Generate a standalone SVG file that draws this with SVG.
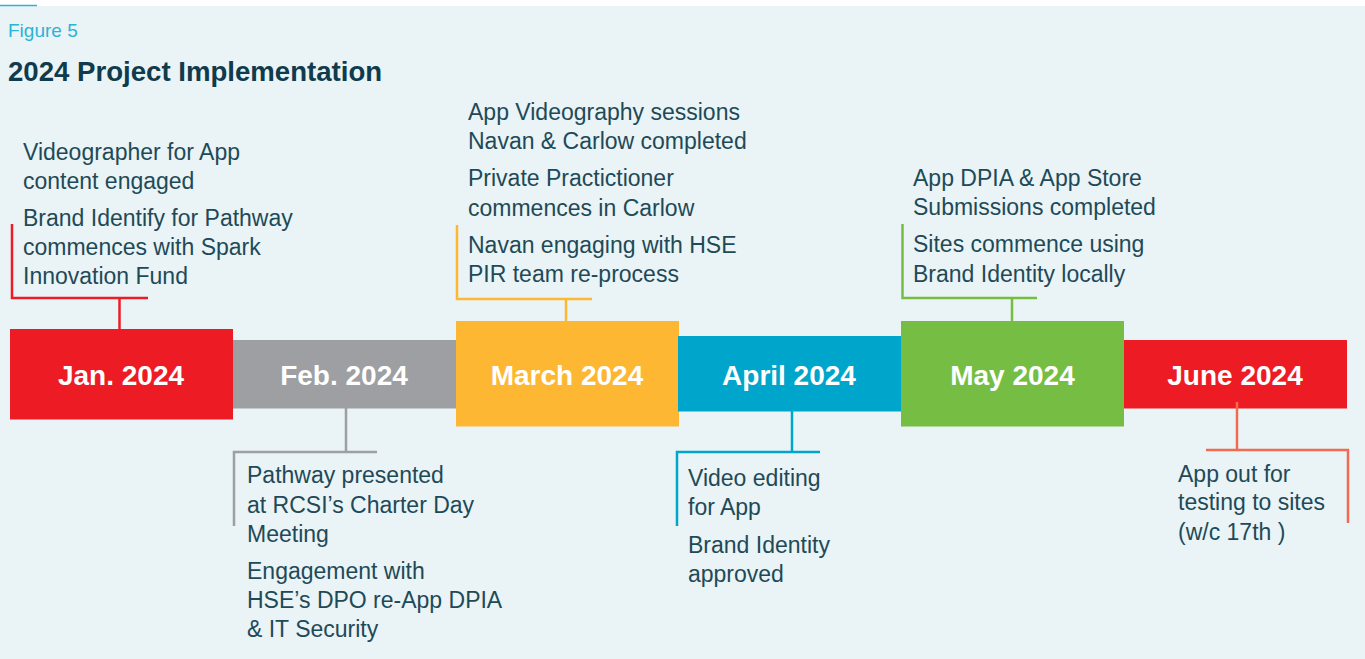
<svg xmlns="http://www.w3.org/2000/svg" width="1365" height="659" viewBox="0 0 1365 659">
<style>
.body{font-family:"Liberation Sans",Arial,sans-serif;font-size:23px;fill:#1E4A58}
.lbl{font-family:"Liberation Sans",Arial,sans-serif;font-size:28px;font-weight:bold;fill:#FFFFFF;text-anchor:middle}
.conn{fill:none;stroke-width:2.5}
</style>
<rect x="0" y="0" width="1365" height="659" fill="#FFFFFF"/>
<rect x="0" y="6" width="1365" height="653" fill="#EAF3F5"/>
<line x1="0" y1="5.5" x2="37" y2="5.5" stroke="#2AB4D6" stroke-width="1.5"/>
<text x="8" y="37" font-family="Liberation Sans, Arial, sans-serif" font-size="19" fill="#2AB4D6">Figure 5</text>
<text x="8" y="81" font-family="Liberation Sans, Arial, sans-serif" font-size="27.6" font-weight="bold" fill="#0F3B4D">2024 Project Implementation</text>

<g id="connectors">
<polyline class="conn" stroke="#ED1C24" points="12,224 12,298 148,298"/>
<line class="conn" stroke="#ED1C24" x1="119.5" y1="298" x2="119.5" y2="329"/>
<line class="conn" stroke="#9D9FA2" x1="346" y1="408" x2="346" y2="452"/>
<polyline class="conn" stroke="#9D9FA2" points="377,452 234,452 234,526"/>
<polyline class="conn" stroke="#FDB733" points="457,225 457,299 592,299"/>
<line class="conn" stroke="#FDB733" x1="566" y1="299" x2="566" y2="321"/>
<line class="conn" stroke="#00A5CC" x1="792" y1="411" x2="792" y2="452"/>
<polyline class="conn" stroke="#00A5CC" points="820,452 677,452 677,526"/>
<polyline class="conn" stroke="#76BE43" points="902.5,224 902.5,298 1037,298"/>
<line class="conn" stroke="#76BE43" x1="1012" y1="298" x2="1012" y2="321"/>
</g>

<g id="jan">
<rect x="10" y="329" width="223" height="90.5" fill="#ED1C24"/>
<text class="lbl" x="121" y="385">Jan. 2024</text>
<text class="body" x="23" y="160">Videographer for App</text>
<text class="body" x="23" y="189">content engaged</text>
<text class="body" x="23" y="226">Brand Identify for Pathway</text>
<text class="body" x="23" y="255">commences with Spark</text>
<text class="body" x="23" y="284">Innovation Fund</text>
</g>

<g id="feb">
<rect x="233" y="340" width="223" height="68.5" fill="#9D9FA2"/>
<text class="lbl" x="344" y="385">Feb. 2024</text>
<text class="body" x="247" y="483">Pathway presented</text>
<text class="body" x="247" y="512.5">at RCSI’s Charter Day</text>
<text class="body" x="247" y="541.5">Meeting</text>
<text class="body" x="247" y="578.5">Engagement with</text>
<text class="body" x="247" y="608">HSE’s DPO re-App DPIA</text>
<text class="body" x="247" y="637">&amp; IT Security</text>
</g>

<g id="march">
<rect x="456" y="321" width="223" height="105.5" fill="#FDB733"/>
<text class="lbl" x="567" y="385">March 2024</text>
<text class="body" x="468" y="120">App Videography sessions</text>
<text class="body" x="468" y="149">Navan &amp; Carlow completed</text>
<text class="body" x="468" y="186">Private Practictioner</text>
<text class="body" x="468" y="216">commences in Carlow</text>
<text class="body" x="468" y="253">Navan engaging with HSE</text>
<text class="body" x="468" y="282">PIR team re-process</text>
</g>

<g id="april">
<rect x="678" y="336" width="223" height="75.5" fill="#00A5CC"/>
<text class="lbl" x="789" y="385">April 2024</text>
<text class="body" x="688" y="486">Video editing</text>
<text class="body" x="688" y="515">for App</text>
<text class="body" x="688" y="553">Brand Identity</text>
<text class="body" x="688" y="582">approved</text>
</g>

<g id="may">
<rect x="901" y="321" width="223" height="105.5" fill="#76BE43"/>
<text class="lbl" x="1012.5" y="385">May 2024</text>
<text class="body" x="913" y="186">App DPIA &amp; App Store</text>
<text class="body" x="913" y="215">Submissions completed</text>
<text class="body" x="913" y="252">Sites commence using</text>
<text class="body" x="913" y="282">Brand Identity locally</text>
</g>

<g id="june">
<rect x="1124" y="340" width="223" height="68.5" fill="#ED1C24"/>
<text class="lbl" x="1235" y="385">June 2024</text>
<text class="body" x="1178" y="482">App out for</text>
<text class="body" x="1178" y="510">testing to sites</text>
<text class="body" x="1178" y="540">(w/c 17th )</text>
</g>

<g id="june-connector">
<line class="conn" stroke="#F26B50" x1="1237" y1="402" x2="1237" y2="450"/>
<polyline class="conn" stroke="#F26B50" points="1206,450 1348,450 1348,523"/>
</g>
</svg>
